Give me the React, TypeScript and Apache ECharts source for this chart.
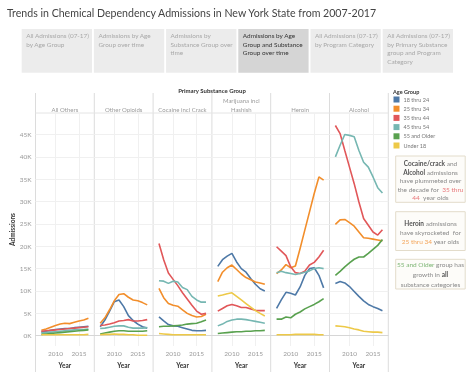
import React, { useEffect, useRef } from 'react';
import * as echarts from 'echarts';

const years = [2007, 2008, 2009, 2010, 2011, 2012, 2013, 2014, 2015, 2016, 2017];
const substances = ['All Others', 'Other Opioids', 'Cocaine incl Crack', 'Marijuana incl\nHashish', 'Heroin', 'Alcohol'];
const ageGroups = ['18 thru 24', '25 thru 34', '35 thru 44', '45 thru 54', '55 and Older', 'Under 18'];
const ageColors = ['#4e79a7', '#f28e2b', '#e15759', '#76b7b2', '#59a14f', '#edc948'];
const yTicks = [0, 5000, 10000, 15000, 20000, 25000, 30000, 35000, 40000, 45000];
const xTicks = [2010, 2015];

// admissions in thousands, rows follow ageGroups order
const allOthers = [
  [0.8, 1.0, 1.2, 1.4, 1.5, 1.6, 1.6, 1.8, 1.9, 2.0, 2.1],
  [1.2, 1.5, 1.9, 2.3, 2.6, 2.8, 2.7, 3.0, 3.3, 3.5, 3.9],
  [1.0, 1.1, 1.2, 1.3, 1.4, 1.5, 1.6, 1.7, 1.8, 1.9, 2.0],
  [0.6, 0.7, 0.8, 0.9, 1.0, 1.1, 1.2, 1.3, 1.4, 1.4, 1.5],
  [0.3, 0.4, 0.5, 0.6, 0.7, 0.8, 0.9, 1.0, 1.1, 1.2, 1.3],
  [0.2, 0.2, 0.2, 0.2, 0.2, 0.2, 0.2, 0.2, 0.2, 0.2, 0.3],
];
const otherOpioids = [
  [2.0, 3.5, 5.5, 7.6, 8.0, 6.5, 4.5, 3.4, 2.6, 2.0, 1.7],
  [2.8, 4.0, 5.8, 7.8, 9.2, 9.4, 8.6, 8.0, 7.8, 7.4, 6.9],
  [2.3, 2.4, 2.6, 2.9, 3.3, 3.4, 3.6, 3.3, 3.3, 3.4, 3.6],
  [1.6, 1.7, 1.9, 2.1, 2.2, 2.2, 1.9, 1.7, 1.7, 1.7, 1.8],
  [0.4, 0.6, 0.8, 1.0, 1.1, 1.1, 1.0, 1.0, 1.0, 1.0, 1.1],
  [0.2, 0.3, 0.3, 0.4, 0.3, 0.3, 0.2, 0.2, 0.1, 0.1, 0.1],
];
const cocaine = [
  [4.2, 3.3, 2.5, 2.2, 2.1, 1.8, 1.5, 1.2, 1.1, 1.1, 1.2],
  [10.6, 8.5, 7.2, 6.8, 6.6, 5.8, 5.0, 4.5, 4.2, 4.3, 4.8],
  [20.6, 17.0, 14.0, 12.6, 11.2, 9.6, 8.2, 6.8, 5.5, 4.8, 5.0],
  [12.3, 12.2, 11.7, 12.2, 12.0, 10.8, 10.3, 8.8, 8.0, 7.5, 7.5],
  [2.0, 2.1, 2.1, 2.2, 2.3, 2.4, 2.6, 2.7, 2.8, 3.1, 3.5],
  [0.5, 0.4, 0.3, 0.2, 0.2, 0.2, 0.2, 0.2, 0.2, 0.2, 0.2],
];
const marijuana = [
  [15.5, 17.0, 17.8, 18.4, 16.5, 15.0, 14.2, 12.8, 11.5, 10.5, 10.0],
  [12.1, 14.2, 15.2, 15.8, 14.8, 13.8, 13.0, 12.5, 12.0, 11.8, 11.5],
  [5.5, 6.1, 6.7, 7.0, 6.7, 6.3, 6.3, 6.0, 5.7, 5.6, 5.6],
  [2.2, 2.6, 3.2, 3.5, 3.7, 3.7, 3.6, 3.4, 3.2, 3.0, 2.8],
  [0.5, 0.6, 0.7, 0.8, 0.9, 0.9, 1.0, 1.0, 1.1, 1.1, 1.2],
  [8.9, 9.1, 9.4, 9.6, 8.8, 8.0, 7.2, 6.4, 5.6, 5.0, 4.4],
];
const heroin = [
  [6.1, 8.0, 9.7, 9.5, 9.1, 10.9, 13.5, 15.0, 15.2, 13.5, 10.7],
  [13.9, 14.7, 15.9, 15.2, 15.6, 19.5, 23.6, 27.7, 31.8, 35.5, 34.8],
  [19.9, 18.9, 17.9, 15.4, 14.1, 13.9, 14.4, 15.8, 16.4, 17.6, 19.1],
  [14.1, 14.4, 14.1, 13.9, 13.7, 13.9, 14.2, 14.5, 15.0, 15.2, 15.0],
  [3.7, 3.7, 4.2, 4.0, 4.8, 5.3, 6.0, 6.5, 7.0, 7.6, 8.3],
  [0.2, 0.2, 0.2, 0.2, 0.3, 0.3, 0.3, 0.3, 0.3, 0.2, 0.2],
];
const alcohol = [
  [11.7, 12.1, 11.8, 11.0, 9.9, 8.8, 7.8, 7.0, 6.5, 6.1, 5.6],
  [24.9, 25.9, 26.0, 25.3, 24.5, 23.2, 21.9, 21.8, 21.6, 21.4, 21.2],
  [47.0, 45.2, 41.4, 37.7, 34.0, 29.9, 26.2, 24.7, 23.2, 22.5, 23.7],
  [40.0, 42.6, 45.0, 44.8, 44.5, 41.4, 38.8, 37.7, 35.5, 33.1, 31.9],
  [13.5, 14.4, 15.4, 16.3, 17.1, 17.6, 17.6, 18.4, 19.3, 20.2, 21.5],
  [2.2, 2.1, 2.0, 1.8, 1.5, 1.3, 1.0, 0.9, 0.8, 0.8, 0.7],
];
const panelData = [allOthers, otherOpioids, cocaine, marijuana, heroin, alcohol];

const tabLabels = [
  'All Admissions (07-17)\nby Age Group',
  'Admissions by Age\nGroup over time',
  'Admissions by\nSubstance Group over\ntime',
  'Admissions by Age\nGroup and Substance\nGroup over time',
  'All Admissions (07-17)\nby Program Category',
  'All Admissions (07-17)\nby Primary Substance\ngroup and Program\nCategory',
];
const selectedTab = 3;

const FONT = 'Lato, "Open Sans", sans-serif';

export default function App() {
  const ref = useRef<HTMLDivElement>(null);
  useEffect(() => {
    if (!ref.current) return;
    const chart = echarts.init(ref.current, undefined, { renderer: 'svg' });

    const PL = 35.5;
    const PW = 58.8;
    const PT = 113;
    const PB = 346;
    const H = 379;

    const grids: any[] = [];
    const xAxes: any[] = [];
    const yAxes: any[] = [];
    const series: any[] = [];

    substances.forEach((sub, i) => {
      grids.push({ left: PL + i * PW, width: PW, top: PT, bottom: H - PB });
      xAxes.push({
        type: 'value',
        gridIndex: i,
        min: 2005.75,
        max: 2018.25,
        axisLine: { show: true, lineStyle: { color: '#d6d6d6', width: 1 } },
        axisTick: { show: false, customValues: xTicks },
        axisLabel: { customValues: xTicks, color: '#9a9a9a', fontSize: 6.5, fontFamily: FONT, margin: 4, formatter: (v: number) => String(v) },
        splitLine: { show: true, lineStyle: { color: '#f0f0f0', width: 1 } },
        name: 'Year',
        nameLocation: 'middle',
        nameGap: 14,
        nameTextStyle: { color: '#333', fontSize: 6.5, fontWeight: 'bold', fontFamily: FONT },
      });
      yAxes.push({
        type: 'value',
        gridIndex: i,
        min: -2300,
        max: 49800,
        axisLine: { show: false },
        axisTick: { show: false, customValues: yTicks },
        axisLabel: {
          show: i === 0,
          customValues: yTicks,
          color: '#9a9a9a',
          fontSize: 6.5,
          fontFamily: FONT,
          margin: 4,
          formatter: (v: number) => `${Math.round(v / 1000)}K`,
        },
        splitLine: { show: true, lineStyle: { color: '#f0f0f0', width: 1 } },
        name: i === 0 ? 'Admissions' : '',
        nameLocation: 'middle',
        nameGap: 15.5,
        nameRotate: 90,
        nameTextStyle: { color: '#333', fontSize: 6.5, fontWeight: 'bold', fontFamily: FONT },
      });
      ageGroups.forEach((ag, j) => {
        series.push({
          type: 'line',
          name: ag,
          xAxisIndex: i,
          yAxisIndex: i,
          data: years.map((yr, k) => [yr, Math.round(panelData[i][j][k] * 1000)]),
          showSymbol: false,
          symbol: 'none',
          color: ageColors[j],
          lineStyle: { width: 1.6, color: ageColors[j] },
          z: 3,
        });
      });
    });

    const graphics: any[] = [];
    graphics.push({
      type: 'text',
      x: 7,
      y: 13,
      style: { text: 'Trends in Chemical Dependency Admissions in New York State from 2007-2017', fill: '#444', fontSize: 10.6, fontFamily: FONT, verticalAlign: 'middle' },
    });
    tabLabels.forEach((t, i) => {
      const x = 21.7 + i * 72.2;
      graphics.push({
        type: 'rect',
        shape: { x, y: 29, width: 70.3, height: 43.7 },
        style: { fill: i === selectedTab ? '#d5d5d5' : '#ececec' },
      });
      graphics.push({
        type: 'text',
        x: x + 4.5,
        y: 31,
        style: { text: t, fill: i === selectedTab ? '#333' : '#a8a8a8', fontSize: 6.4, lineHeight: 8.7, fontFamily: FONT, verticalAlign: 'top' },
      });
    });
    graphics.push({
      type: 'text',
      x: 212,
      y: 90,
      style: { text: 'Primary Substance Group', fill: '#333', fontSize: 6, fontWeight: 'bold', fontFamily: FONT, align: 'center', verticalAlign: 'middle' },
    });
    substances.forEach((s, i) => {
      graphics.push({
        type: 'text',
        x: PL + i * PW + PW / 2,
        y: 114,
        style: { text: s, fill: '#9a9a9a', fontSize: 6, lineHeight: 9, fontFamily: FONT, align: 'center', verticalAlign: 'bottom' },
      });
    });
    for (let i = 0; i <= 6; i++) {
      graphics.push({
        type: 'line',
        shape: { x1: PL + i * PW, y1: 93, x2: PL + i * PW, y2: 372 },
        style: { stroke: '#dcdcdc', lineWidth: 1 },
      });
    }
    graphics.push({
      type: 'line',
      shape: { x1: PL, y1: PT, x2: PL + 6 * PW, y2: PT },
      style: { stroke: '#e4e4e4', lineWidth: 1 },
    });
    graphics.push({
      type: 'text',
      x: 393,
      y: 91.5,
      style: { text: 'Age Group', fill: '#333', fontSize: 5.5, fontWeight: 'bold', fontFamily: FONT, verticalAlign: 'middle' },
    });

    const box = (top: number, bottom: number, text: string, rich: any, firstY: number, lh: number) => {
      graphics.push({
        type: 'rect',
        shape: { x: 395.7, y: top, width: 69.5, height: bottom - top },
        style: { fill: '#fdfcf9', stroke: '#e3dccb', lineWidth: 1 },
      });
      graphics.push({
        type: 'text',
        x: 430.5,
        y: firstY,
        style: { text, rich, fill: '#8a8a8a', fontSize: 6.5, lineHeight: lh, fontFamily: FONT, align: 'center', verticalAlign: 'top' },
      });
    };
    const base = { fontSize: 6.5, fontFamily: FONT, fill: '#8a8a8a' };
    const rich = {
      n: { ...base },
      b: { ...base, fill: '#555', fontWeight: 'bold' },
      r: { ...base, fill: '#e8777a' },
      o: { ...base, fill: '#f4a55a' },
      g: { ...base, fill: '#7fb676' },
    };
    box(156, 202.3,
      '{b|Cocaine/crack}{n| and}\n{b|Alcohol}{n| admissions}\n{n|have plummeted over}\n{n|the decade for  }{r|35 thru}\n{r|44}{n|  year olds}',
      rich, 159.5, 8.5);
    box(211.7, 250.5,
      '{b|Heroin}{n| admissions}\n{n|have skyrocketed  for}\n{o|25 thru 34}{n| year olds}',
      rich, 218.5, 9.2);
    box(259.3, 289,
      '{g|55 and Older}{n| group has}\n{n|growth in }{b|all}\n{n|substance categories}',
      rich, 259.5, 10);

    chart.setOption({
      animation: false,
      textStyle: { fontFamily: FONT },
      grid: grids,
      xAxis: xAxes,
      yAxis: yAxes,
      series,
      legend: {
        data: ageGroups,
        orient: 'vertical',
        left: 393.5,
        top: 96.5,
        icon: 'rect',
        itemWidth: 6,
        itemHeight: 6,
        itemGap: 3.2,
        padding: 0,
        textStyle: { color: '#777', fontSize: 5.5, fontFamily: FONT, padding: [0, 0, 0, -1] },
      },
      graphic: graphics,
    });
    return () => chart.dispose();
  }, []);
  return <div ref={ref} style={{ position: 'fixed', left: 0, top: 0, width: 474, height: 379 }} />;
}
